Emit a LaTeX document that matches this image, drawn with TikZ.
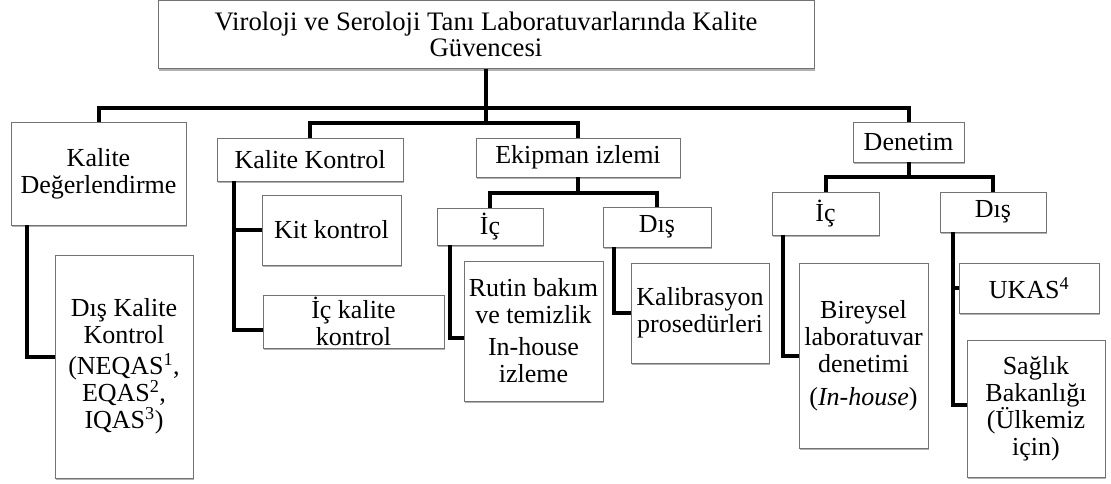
\documentclass[tikz,border=0pt]{standalone}
\usepackage{fontspec}
\setmainfont{Liberation Serif}
\usepackage{tikz}
\usetikzlibrary{shadows}

\begin{document}
\begin{tikzpicture}[
  x=1pt, y=-1pt,
  box/.style={draw=black!55, fill=white, line width=0.9pt, align=center, inner sep=1pt,
    font=\fontsize{26}{27}\selectfont,
    drop shadow={shadow xshift=1pt, shadow yshift=-2pt, fill=black, opacity=.3}},
  link/.style={line width=4pt, black}
]
\useasboundingbox (0,0) rectangle (1111,483);

\node[box, minimum width=656, minimum height=68, font=\fontsize{26.7}{26}\selectfont] (root) at (486,34.5) {Viroloji ve Seroloji Tanı Laboratuvarlarında Kalite\\Güvencesi};

\node[box, minimum width=175, minimum height=103] (kd) at (98.5,173.5) {Kalite\\Değerlendirme};
\node[box, minimum width=186, minimum height=43] (kk) at (310,159.5) {Kalite Kontrol};
\node[box, minimum width=204, minimum height=39] (ek) at (578,157.5) {Ekipman izlemi};
\node[box, minimum width=111, minimum height=40] (den) at (908.5,142) {Denetim};

\node[box, minimum width=138, minimum height=223] (dkk) at (124,366.5) {Dış Kalite\\Kontrol\\[4pt](NEQAS\textsuperscript{1},\\EQAS\textsuperscript{2},\\IQAS\textsuperscript{3})};

\node[box, minimum width=139, minimum height=70] (kit) at (331.5,230) {Kit kontrol};
\node[box, minimum width=181, minimum height=53] (ick) at (353.5,321.5) {İç kalite\\kontrol};

\node[box, minimum width=106, minimum height=37] (ic1) at (490,226.5) {İç};
\node[box, minimum width=108, minimum height=40] (dis1) at (657,227) {Dış};
\node[box, minimum width=139, minimum height=140] (rutin) at (533.5,331) {Rutin bakım\\ve temizlik\\[5pt]In-house\\izleme};
\node[box, minimum width=138, minimum height=100] (kal) at (700,313) {Kalibrasyon\\prosedürleri};

\node[box, minimum width=107, minimum height=43] (ic2) at (825.5,213.5) {İç};
\node[box, minimum width=106, minimum height=40] (dis2) at (993,212) {Dış};
\node[box, minimum width=129, minimum height=185] (bir) at (863.5,355.5) {Bireysel\\laboratuvar\\denetimi\\[6pt](\textit{In-house})};
\node[box, minimum width=140, minimum height=50] (ukas) at (1029,288) {UKAS\textsuperscript{4}};
\node[box, minimum width=138, minimum height=137] (sag) at (1036,408.5) {Sağlık\\Bakanlığı\\(Ülkemiz\\için)};

\coordinate (top1) at (486,108);
\coordinate (top2) at (486,123);
\coordinate (ekj) at (578,193);
\coordinate (denj) at (908.5,177);
\coordinate (kdsp) at (27,0);
\coordinate (kksp) at (234,0);
\coordinate (ic1sp) at (450,0);
\coordinate (dis1sp) at (614,0);
\coordinate (ic2sp) at (783,0);
\coordinate (dis2sp) at (953,0);

\draw[link] (root.south) -- (top2);
\draw[link] (kd.north) |- (top1) -| (den.north);
\draw[link] (kk.north) |- (top2) -| (ek.north);
\draw[link] (ek.south) -- (ekj);
\draw[link] (ic1.north) |- (ekj) -| (dis1.north);
\draw[link] (den.south) -- (denj);
\draw[link] (ic2.north) |- (denj) -| (dis2.north);

\draw[link] (kd.south -| kdsp) |- ([yshift=9.5pt]dkk.west);
\draw[link] (kk.south -| kksp) |- ([yshift=-8.5pt]ick.west);
\draw[link] (kksp |- kit.west) -- (kit.west);
\draw[link] (ic1.south -| ic1sp) |- ([yshift=-7pt]rutin.west);
\draw[link] (dis1.south -| dis1sp) |- (kal.west);
\draw[link] (ic2.south -| ic2sp) |- (bir.west);
\draw[link] (dis2.south -| dis2sp) |- ([yshift=4pt]sag.west);
\draw[link] (dis2sp |- ukas.west) -- (ukas.west);
\end{tikzpicture}
\end{document}
